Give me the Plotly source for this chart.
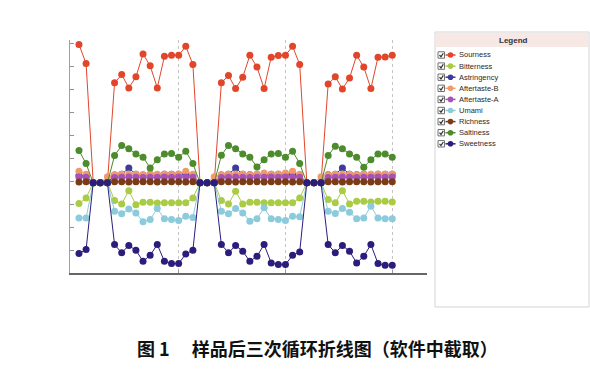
import plotly.graph_objects as go

# ---------------- data ----------------
x_idx = list(range(1, 46))
series_names = ["Sourness", "Bitterness", "Astringency", "Aftertaste-B", "Aftertaste-A",
                "Umami", "Richness", "Saltiness", "Sweetness"]
series_colors = ["#e2462a", "#a9cb45", "#3b3c9c", "#f09a6c", "#a452b6",
                 "#8bcbdc", "#7a3c14", "#4d8c2c", "#2c1d7c"]

sourness = [5.96, 5.13, -0.05, -0.05, -0.05, 4.29, 4.65, 4.07, 4.55, 5.55, 5.03, 4.07, 5.45, 5.49, 5.49,
            5.88, 5.09, -0.05, -0.05, -0.05, 4.29, 4.61, 4.04, 4.53, 5.49, 4.98, 4.04, 5.41, 5.48, 5.49,
            5.88, 5.09, -0.05, -0.05, -0.05, 4.24, 4.55, 4.02, 4.50, 5.49, 4.98, 4.04, 5.41, 5.42, 5.49]
bitterness = [-0.97, -0.73, -0.07, -0.07, -0.07, -0.84, -0.99, -0.41, -1.02, -0.92, -0.92, -0.95, -0.94, -0.94, -0.94,
              -0.94, -0.73, -0.07, -0.07, -0.07, -0.84, -0.99, -0.44, -0.99, -0.92, -0.92, -0.94, -0.94, -0.94, -0.94,
              -0.94, -0.73, -0.07, -0.07, -0.07, -0.80, -0.94, -0.41, -0.99, -0.87, -0.87, -0.90, -0.87, -0.87, -0.90]
astringency = [0.25, 0.22, -0.07, -0.07, -0.07, 0.27, 0.30, 0.58, 0.30, 0.27, 0.30, 0.28, 0.30, 0.30, 0.30,
               0.30, 0.25, -0.07, -0.07, -0.07, 0.27, 0.30, 0.58, 0.30, 0.28, 0.30, 0.28, 0.30, 0.30, 0.30,
               0.30, 0.25, -0.07, -0.07, -0.07, 0.28, 0.30, 0.58, 0.30, 0.28, 0.30, 0.28, 0.30, 0.30, 0.30]
aftertaste_b = [0.44, 0.30, -0.07, -0.07, 0.20, 0.28, 0.30, 0.32, 0.30, 0.28, 0.30, 0.30, 0.32, 0.30, 0.32,
                0.44, 0.30, -0.07, -0.07, 0.20, 0.28, 0.30, 0.32, 0.30, 0.28, 0.30, 0.36, 0.30, 0.32, 0.36,
                0.44, 0.30, -0.07, -0.07, 0.20, 0.28, 0.30, 0.32, 0.30, 0.28, 0.30, 0.30, 0.32, 0.30, 0.32]
aftertaste_a = [0.19, 0.17, -0.07, -0.07, -0.07, 0.16, 0.17, 0.18, 0.17, 0.16, 0.17, 0.17, 0.18, 0.17, 0.18,
                0.19, 0.17, -0.07, -0.07, -0.07, 0.16, 0.17, 0.18, 0.17, 0.16, 0.17, 0.17, 0.18, 0.17, 0.18,
                0.19, 0.17, -0.07, -0.07, -0.07, 0.16, 0.17, 0.18, 0.17, 0.16, 0.17, 0.17, 0.18, 0.17, 0.18]
umami = [-1.60, -1.60, -0.07, -0.07, -0.07, -1.31, -1.42, -1.21, -1.38, -1.77, -1.67, -1.19, -1.64, -1.67, -1.71,
         -1.53, -1.58, -0.07, -0.07, -0.07, -1.31, -1.42, -1.19, -1.38, -1.74, -1.64, -1.16, -1.63, -1.67, -1.71,
         -1.53, -1.55, -0.07, -0.07, -0.07, -1.31, -1.41, -1.19, -1.35, -1.64, -1.60, -1.09, -1.60, -1.63, -1.64]
richness = [-0.03, -0.02, -0.07, -0.07, -0.05, -0.02, -0.02, -0.03, -0.02, -0.02, -0.02, -0.03, -0.02, -0.02, -0.02,
            -0.03, -0.02, -0.07, -0.07, -0.05, -0.02, -0.02, -0.03, -0.02, -0.02, -0.02, -0.03, -0.02, -0.02, -0.02,
            -0.03, -0.02, -0.07, -0.07, -0.05, -0.02, -0.02, -0.03, -0.02, -0.02, -0.02, -0.03, -0.02, -0.02, -0.02]
saltiness = [1.34, 0.77, -0.07, -0.07, -0.07, 1.12, 1.56, 1.42, 1.19, 1.05, 0.58, 0.94, 1.19, 1.21, 1.05,
             1.31, 0.77, -0.07, -0.07, -0.07, 1.13, 1.56, 1.42, 1.19, 1.05, 0.62, 0.94, 1.19, 1.21, 1.05,
             1.31, 0.77, -0.07, -0.07, -0.07, 1.12, 1.53, 1.42, 1.19, 1.05, 0.61, 0.94, 1.19, 1.19, 1.05]
sweetness = [-3.15, -2.98, -0.07, -0.07, -0.07, -2.76, -3.12, -2.80, -3.01, -3.49, -3.23, -2.76, -3.49, -3.59, -3.59,
             -3.17, -3.01, -0.07, -0.07, -0.07, -2.76, -3.12, -2.80, -3.05, -3.49, -3.27, -2.76, -3.56, -3.63, -3.63,
             -3.23, -3.08, -0.07, -0.07, -0.07, -2.76, -3.12, -2.80, -3.05, -3.56, -3.27, -2.76, -3.59, -3.66, -3.66]
series_values = [sourness, bitterness, astringency, aftertaste_b, aftertaste_a,
                 umami, richness, saltiness, sweetness]

grid_ticks = [15, 30, 45]
caption = "图 1　 样品后三次循环折线图（软件中截取）"

# ---------------- figure ----------------
W, H = 590, 370
ML, MR, MT, MB = 70, 163, 40, 97
PW, PH = W - ML - MR, H - MT - MB

def fx(px):
    return (px - ML) / PW

def fy(py):
    return (H - MB - py) / PH

fig = go.Figure()
for name, color, vals in zip(series_names, series_colors, series_values):
    fig.add_trace(go.Scatter(
        x=x_idx, y=vals, name=name, mode="lines+markers",
        line=dict(color=color, width=1),
        marker=dict(color=color, size=7, line=dict(width=0)),
        showlegend=False, cliponaxis=False))

fig.update_layout(
    width=W, height=H,
    margin=dict(l=ML, r=MR, t=MT, b=MB, pad=0),
    paper_bgcolor="white", plot_bgcolor="white",
    xaxis=dict(range=[-0.26, 49.88], tickvals=grid_ticks, showticklabels=False,
               showgrid=True, gridcolor="#c4c4c4", griddash="dot", gridwidth=1,
               showline=True, linecolor="#666666", linewidth=2,
               ticks="inside", ticklen=3, tickcolor="#999", zeroline=False),
    yaxis=dict(range=[-4, 6.157], tick0=0, dtick=1, showticklabels=False,
               showgrid=False, zeroline=False,
               showline=True, linecolor="#a0a0a0", linewidth=1,
               ticks="inside", ticklen=4, tickcolor="#909090"),
)

shapes = []
annotations = []
# legend panel
shapes.append(dict(type="rect", xref="paper", yref="paper",
                   x0=fx(435), x1=fx(589), y0=fy(307), y1=fy(32),
                   line=dict(color="#d4d4d4", width=1), fillcolor="white", layer="below"))
shapes.append(dict(type="rect", xref="paper", yref="paper",
                   x0=fx(436), x1=fx(588), y0=fy(47), y1=fy(33),
                   line=dict(width=0), fillcolor="#f7e7e5", layer="below"))
annotations.append(dict(text="<b>Legend</b>", xref="paper", yref="paper",
                        x=fx(513), y=fy(40), showarrow=False,
                        font=dict(family="Liberation Sans, Arial", size=8, color="#333333"),
                        xanchor="center", yanchor="middle"))
for i, (name, color) in enumerate(zip(series_names, series_colors)):
    cy = 55 + 11.1 * i
    # checkbox
    shapes.append(dict(type="rect", xref="paper", yref="paper",
                       x0=fx(438), x1=fx(444.5), y0=fy(cy + 3.2), y1=fy(cy - 3.2),
                       line=dict(color="#707070", width=1), fillcolor="white"))
    shapes.append(dict(type="path", xref="paper", yref="paper",
                       path=f"M {fx(439.5)},{fy(cy)} L {fx(441)},{fy(cy + 1.8)} L {fx(443.3)},{fy(cy - 1.8)}",
                       line=dict(color="#303030", width=1.2)))
    # line + marker
    shapes.append(dict(type="line", xref="paper", yref="paper",
                       x0=fx(445.5), x1=fx(455.5), y0=fy(cy), y1=fy(cy),
                       line=dict(color=color, width=1.5)))
    shapes.append(dict(type="circle", xref="paper", yref="paper",
                       x0=fx(447.7), x1=fx(453.3), y0=fy(cy + 2.8), y1=fy(cy - 2.8),
                       line=dict(width=0), fillcolor=color))
    annotations.append(dict(text=name, xref="paper", yref="paper",
                            x=fx(457), y=fy(cy), showarrow=False,
                            xanchor="left", yanchor="middle",
                            font=dict(family="Liberation Sans, Arial", size=7.5, color="#2a2a2a")))

annotations.append(dict(text="<b>" + caption + "</b>", xref="paper", yref="paper",
                        x=fx(317), y=fy(348), showarrow=False,
                        xanchor="center", yanchor="middle",
                        font=dict(family="Noto Sans CJK SC", size=18, color="#111111")))

fig.update_layout(shapes=shapes, annotations=annotations)
fig.write_html("out.html", config={"displayModeBar": False},
               post_script="document.body.style.margin='0px';document.body.style.overflow='hidden';")
